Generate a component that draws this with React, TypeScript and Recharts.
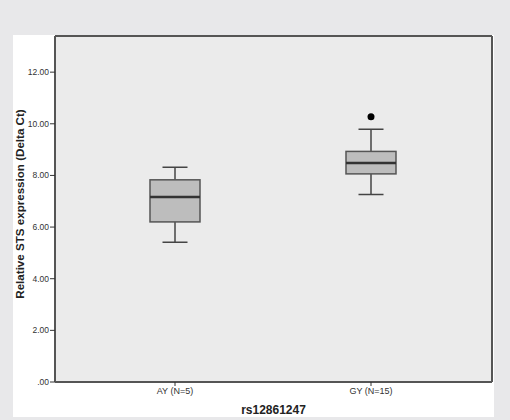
import React from 'react';
import {
  ComposedChart,
  Bar,
  Scatter,
  XAxis,
  YAxis,
  CartesianGrid,
} from 'recharts';

// 箱ひげ図の値
const categories = ['AY (N=5)', 'GY (N=15)'];
const minVals = [5.41, 7.26];
const q1Vals = [6.2, 8.06];
const medianVals = [7.16, 8.48];
const q3Vals = [7.83, 8.93];
const maxVals = [8.32, 9.79];
const outlierVals: (number | null)[] = [null, 10.27];
const yTicks = [0, 2, 4, 6, 8, 10, 12];

const FONT = "Arial, 'Liberation Sans', sans-serif";

const data = categories.map((name, i) => ({
  name,
  range: [minVals[i], maxVals[i]],
  q1: q1Vals[i],
  median: medianVals[i],
  q3: q3Vals[i],
  min: minVals[i],
  max: maxVals[i],
  outlier: outlierVals[i],
}));

const BoxShape = (props: any) => {
  const { x, y, width, height, payload } = props;
  if (payload == null || height == null) return null;
  const lo = payload.min;
  const hi = payload.max;
  // バーの範囲（min〜max）から各値のピクセル位置を求める
  const toPx = (v: number) => y + (height * (hi - v)) / (hi - lo);
  const cx = x + width / 2;
  const cap = 12.5;
  const yMin = toPx(lo);
  const yMax = toPx(hi);
  const yQ1 = toPx(payload.q1);
  const yQ3 = toPx(payload.q3);
  const yMed = toPx(payload.median);
  return (
    <g>
      <line x1={cx} x2={cx} y1={yMax} y2={yQ3} stroke="#444" strokeWidth={1.5} />
      <line x1={cx} x2={cx} y1={yQ1} y2={yMin} stroke="#444" strokeWidth={1.5} />
      <line x1={cx - cap} x2={cx + cap} y1={yMax} y2={yMax} stroke="#444" strokeWidth={1.5} />
      <line x1={cx - cap} x2={cx + cap} y1={yMin} y2={yMin} stroke="#444" strokeWidth={1.5} />
      <rect
        x={x}
        y={yQ3}
        width={width}
        height={yQ1 - yQ3}
        fill="#bdbdbd"
        stroke="#555"
        strokeWidth={1.5}
      />
      <line x1={x} x2={x + width} y1={yMed} y2={yMed} stroke="#333" strokeWidth={2.5} />
    </g>
  );
};

const fmtY = (v: number) => (v === 0 ? '.00' : v.toFixed(2));

// 縦軸タイトル（少し上寄せ）
const YTitle = (props: any) => {
  const vb = props.viewBox || {};
  const x = (vb.x ?? 0) + 6;
  const y = (vb.y ?? 0) + (vb.height ?? 0) / 2 - 5;
  return (
    <text
      x={x}
      y={y}
      transform={`rotate(-90, ${x}, ${y})`}
      textAnchor="middle"
      dominantBaseline="central"
      fontSize={11.6}
      fontWeight="bold"
      fill="#222"
      fontFamily={FONT}
    >
      Relative STS expression (Delta Ct)
    </text>
  );
};

export default function App() {
  return (
    <div
      style={{
        position: 'fixed',
        left: 0,
        top: 0,
        width: 510,
        height: 420,
        background: '#e8e8ea',
      }}
    >
      <div
        style={{
          position: 'absolute',
          left: 13,
          top: 35,
          width: 481,
          height: 382,
          background: '#ffffff',
        }}
      >
        <ComposedChart
          width={481}
          height={382}
          data={data}
          margin={{ top: 1, right: 2, left: 0, bottom: 0 }}
          style={{ fontFamily: FONT }}
        >
          {/* 枠線の上辺と右辺 */}
          <CartesianGrid
            fill="#ebebeb"
            stroke="#555"
            strokeWidth={2}
            horizontalCoordinatesGenerator={({ offset }: any) => [offset.top]}
            verticalCoordinatesGenerator={({ offset }: any) => [offset.left + offset.width]}
          />
          <XAxis
            dataKey="name"
            padding={{ left: 22, right: 23 }}
            height={35}
            axisLine={{ stroke: '#555', strokeWidth: 2 }}
            tickLine={{ stroke: '#333' }}
            tickSize={4}
            tickMargin={2}
            tick={{ fontSize: 9, fill: '#333', fontFamily: FONT }}
            label={{
              value: 'rs12861247',
              position: 'insideBottom',
              offset: 3,
              style: { fontSize: 12, fontWeight: 'bold', fill: '#222', fontFamily: FONT },
            }}
          />
          <YAxis
            type="number"
            domain={[0, 13.4]}
            ticks={yTicks}
            allowDataOverflow
            width={42}
            tickFormatter={fmtY}
            axisLine={{ stroke: '#555', strokeWidth: 2 }}
            tickLine={{ stroke: '#333' }}
            tickSize={5}
            tickMargin={1}
            tick={{ fontSize: 8.5, fill: '#333', fontFamily: FONT }}
            label={<YTitle />}
          />
          <Bar
            dataKey="range"
            barSize={50}
            shape={<BoxShape />}
            isAnimationActive={false}
          />
          <Scatter
            dataKey="outlier"
            fill="#000"
            isAnimationActive={false}
            shape={(p: any) =>
              p.cy == null || p.payload?.outlier == null ? null : (
                <circle cx={p.cx} cy={p.cy} r={3.5} fill="#000" />
              )
            }
          />
        </ComposedChart>
      </div>
    </div>
  );
}
